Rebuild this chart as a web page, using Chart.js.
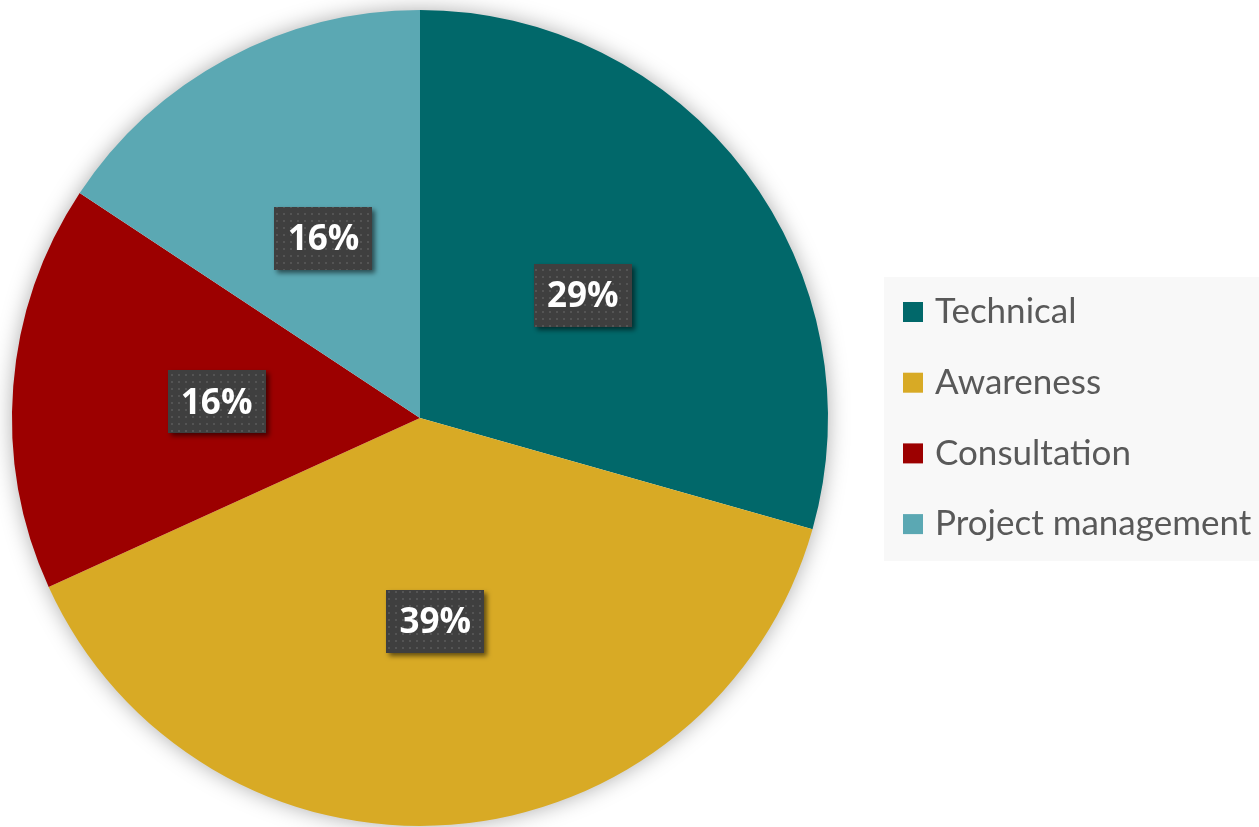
<!DOCTYPE html>
<html>
<head>
<meta charset="utf-8">
<script src="https://cdn.jsdelivr.net/npm/chart.js@4"></script>
<style>
  html, body { margin: 0; padding: 0; background: #ffffff; }
  #wrap { width: 1259px; height: 827px; position: relative; }
</style>
</head>
<body>
<div id="wrap"><canvas id="pieChart"></canvas></div>
<script>
var categories = ['Technical', 'Awareness', 'Consultation', 'Project management']
var shares = [29.4, 38.8, 16.1, 15.7]
var colors = ['#01686a', '#d8aa25', '#9c0000', '#5ba8b3']

// small dotted fill used behind the percentage labels
function dotPattern(ctx) {
  var c = document.createElement('canvas')
  c.width = 7
  c.height = 7
  var p = c.getContext('2d')
  p.fillStyle = '#3f3f3f'
  p.fillRect(0, 0, 7, 7)
  p.fillStyle = '#545454'
  p.fillRect(3, 3, 2, 2)
  return ctx.createPattern(c, 'repeat')
}

const pieShadow = {
  id: 'pieShadow',
  beforeDatasetsDraw(chart) {
    const ctx = chart.ctx
    const arc = chart.getDatasetMeta(0).data[0]
    if (!arc) return
    ctx.save()
    ctx.shadowColor = 'rgba(0,0,0,0.35)'
    ctx.shadowBlur = 22
    ctx.fillStyle = '#ffffff'
    ctx.beginPath()
    ctx.arc(arc.x, arc.y, arc.outerRadius - 1, 0, Math.PI * 2)
    ctx.fill()
    ctx.restore()
  }
}

const pctLabels = {
  id: 'pctLabels',
  afterDatasetsDraw(chart) {
    const ctx = chart.ctx
    const data = chart.data.datasets[0].data
    const total = data.reduce((a, b) => a + b, 0)
    const fill = dotPattern(ctx)
    chart.getDatasetMeta(0).data.forEach((arc, i) => {
      const { x, y } = arc.tooltipPosition()
      const w = 98
      const h = 63
      ctx.save()
      ctx.shadowColor = 'rgba(0,0,0,0.55)'
      ctx.shadowBlur = 5
      ctx.shadowOffsetX = 3
      ctx.shadowOffsetY = 3
      ctx.fillStyle = fill
      ctx.fillRect(Math.round(x - w / 2), Math.round(y - h / 2), w, h)
      ctx.restore()

      ctx.save()
      ctx.font = 'bold 35px "Open Sans"'
      ctx.fillStyle = '#ffffff'
      ctx.textAlign = 'center'
      ctx.textBaseline = 'middle'
      ctx.fillText(Math.round(data[i] / total * 100) + '%', x, y + 2)
      ctx.restore()
    })
  }
}

const sideLegend = {
  id: 'sideLegend',
  afterDraw(chart) {
    const ctx = chart.ctx
    ctx.save()
    ctx.fillStyle = '#f8f8f8'
    ctx.fillRect(884, 277, 375, 284)
    ctx.font = '35px Lato'
    ctx.textBaseline = 'middle'
    categories.forEach((name, i) => {
      const cy = 312 + i * 70.7
      ctx.fillStyle = colors[i]
      ctx.fillRect(903, cy - 10, 20, 20)
      ctx.fillStyle = '#595959'
      ctx.fillText(name, 935, cy)
    })
    ctx.restore()
  }
}

var ctxPie = document.getElementById('pieChart').getContext('2d')
var pieChart = new Chart(ctxPie, {
  type: 'pie',
  data: {
    labels: categories,
    datasets: [
      {
        data: shares,
        backgroundColor: colors,
        borderWidth: 0
      }
    ]
  },
  options: {
    responsive: true,
    maintainAspectRatio: false,
    animation: false,
    layout: {
      padding: { top: 10, bottom: 1, left: 0, right: 419 }
    },
    plugins: {
      legend: { display: false },
      tooltip: { enabled: false }
    }
  },
  plugins: [pieShadow, pctLabels, sideLegend]
})
</script>
</body>
</html>
